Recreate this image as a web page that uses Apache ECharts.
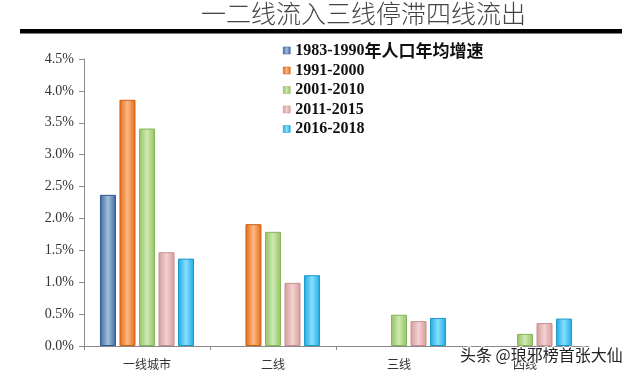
<!DOCTYPE html>
<html>
<head>
<meta charset="utf-8">
<script src="https://cdn.jsdelivr.net/npm/echarts@6/dist/echarts.min.js"></script>
<style>
html,body{margin:0;padding:0;background:#fff;}
#c{width:634px;height:375px;}
</style>
</head>
<body>
<div id="c"></div>
<script>
var categories = ['一线城市', '二线', '三线', '四线'];
var seriesNames = ['1983-1990年人口年均增速', '1991-2000', '2001-2010', '2011-2015', '2016-2018'];
var s1983_1990 = [2.37, null, null, null];
var s1991_2000 = [3.86, 1.91, null, null];
var s2001_2010 = [3.41, 1.79, 0.49, 0.19];
var s2011_2015 = [1.47, 0.99, 0.39, 0.36];
var s2016_2018 = [1.37, 1.11, 0.44, 0.43];
var yTicks = [0, 0.5, 1.0, 1.5, 2.0, 2.5, 3.0, 3.5, 4.0, 4.5];

var allData = [s1983_1990, s1991_2000, s2001_2010, s2011_2015, s2016_2018];
var palette = [
  {edge:'#3a68a0', mid:'#a4bfdd', border:'#2f5a8c'},
  {edge:'#e26a14', mid:'#fdb885', border:'#cf5f10'},
  {edge:'#92c262', mid:'#cfe8b3', border:'#86b657'},
  {edge:'#d39c9b', mid:'#f4d2d1', border:'#c98f8e'},
  {edge:'#1ea8e2', mid:'#86e0ff', border:'#1b98cc'}
];
function grad(p){
  return new echarts.graphic.LinearGradient(0,0,1,0,[
    {offset:0,color:p.edge},{offset:0.5,color:p.mid},{offset:1,color:p.edge}
  ]);
}
var series = seriesNames.map(function(n,i){
  return {
    name:n, type:'bar', data: allData[i],
    barWidth:16, barGap:'22%',
    itemStyle:{color:grad(palette[i]), borderColor:palette[i].border, borderWidth:1},
    emphasis:{disabled:true}
  };
});

var chart = echarts.init(document.getElementById('c'), null, {renderer:'canvas'});
chart.setOption({
  backgroundColor:'#fff',
  animation:false,
  grid:{left:84, right:46, top:59, bottom:29},
  legend:{
    orient:'vertical', left:278, top:37,
    itemWidth:7, itemHeight:7, itemGap:3.5,
    icon:'rect',
    data: seriesNames.map(function(n,i){return {name:n, itemStyle:{color:grad(palette[i]), borderColor:palette[i].border, borderWidth:0.5}};}),
    formatter:function(n){
      var m = n.match(/^([0-9\-]+)(.*)$/);
      return '{a|'+m[1]+'}' + (m[2] ? '{b|'+m[2]+'}' : '');
    },
    textStyle:{
      lineHeight:14,
      rich:{
        a:{fontFamily:'"Liberation Serif",serif', fontWeight:'bold', fontSize:16, color:'#111', lineHeight:14},
        b:{fontFamily:'"Noto Sans CJK SC",sans-serif', fontWeight:'bold', fontSize:17, color:'#111', lineHeight:14}
      }
    }
  },
  xAxis:{
    type:'category', data:categories,
    axisLine:{lineStyle:{color:'#8a8a8a', width:1}},
    axisTick:{show:true, length:4, lineStyle:{color:'#8a8a8a'}},
    axisLabel:{fontFamily:'"Noto Sans CJK SC",sans-serif', fontSize:12, color:'#333', margin:12}
  },
  yAxis:{
    type:'value', min:yTicks[0], max:yTicks[yTicks.length-1], interval:0.5,
    splitLine:{show:false},
    axisLine:{show:true, lineStyle:{color:'#8a8a8a', width:1}},
    axisTick:{show:true, length:5, lineStyle:{color:'#8a8a8a'}},
    axisLabel:{fontFamily:'"Liberation Serif",serif', fontSize:14, color:'#333', margin:10,
      formatter:function(v){return v.toFixed(1)+'%';}}
  },
  series: series,
  graphic:[
    {type:'text', left:201, top:1, style:{text:'一二线流入三线停滞四线流出', fontSize:25, fontFamily:'"Noto Sans CJK SC",sans-serif', fontWeight:300, fill:'#444'}},
    {type:'rect', shape:{x:20, y:29, width:602, height:4.5}, style:{fill:'#000'}},
    {type:'text', left:459, top:346, z:100, style:{text:'头条 @琅邪榜首张大仙', fontSize:16, fontFamily:'"Noto Sans CJK SC",sans-serif', fill:'#222', stroke:'#fff', lineWidth:2}}
  ]
});
</script>
</body>
</html>
